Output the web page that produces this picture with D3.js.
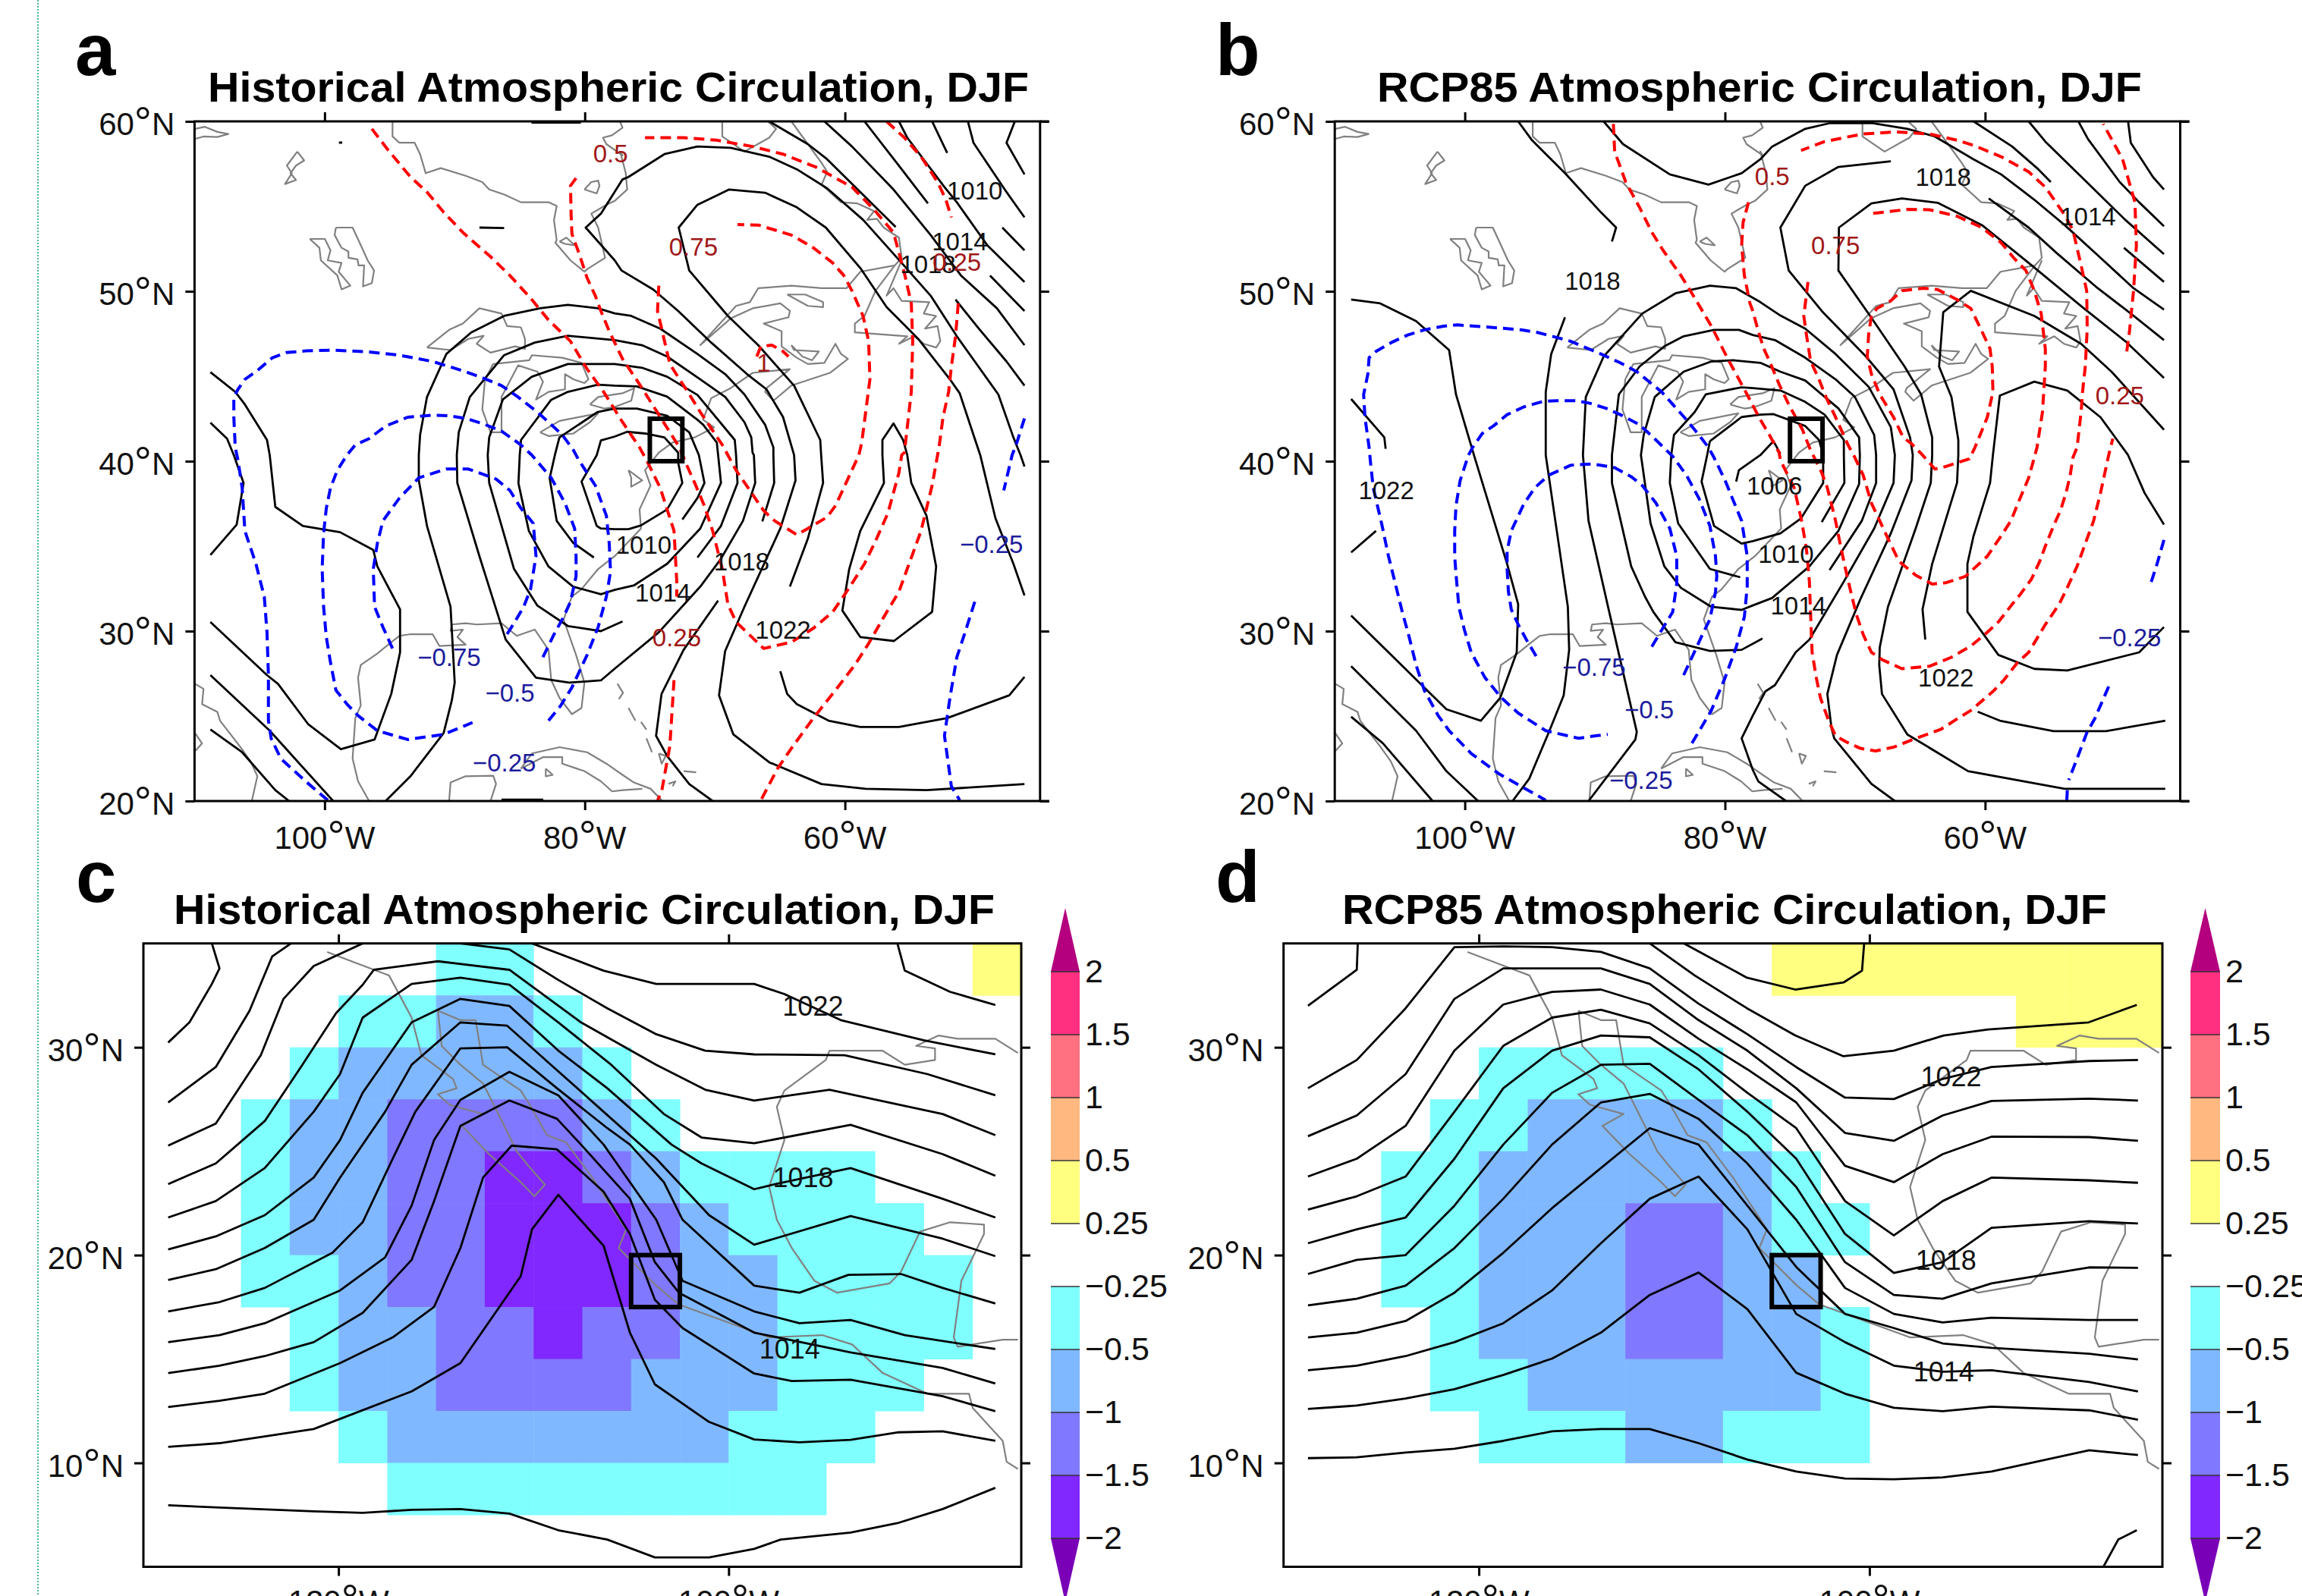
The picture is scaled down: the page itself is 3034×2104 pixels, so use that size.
<!DOCTYPE html>
<html>
<head>
<meta charset="utf-8">
<script src="https://cdnjs.cloudflare.com/ajax/libs/d3/7.8.5/d3.min.js"></script>
<style>
    html, body { margin: 0; padding: 0; background: #fff; overflow: hidden; }
    text { font-family: "Liberation Sans", Arial, sans-serif; }
</style>
</head>
<body>
<svg id="fig" width="3034" height="2104"></svg>
<script>
// ---- data, everything is [lon, lat] ----
const topLonTicks = [-100, -80, -60];
const topLatTicks = [60, 50, 40, 30, 20];
const lowLonTicks = [-120, -100];
const lowLatTicks = [30, 20, 10];
const topTitle = ["Historical Atmospheric Circulation, DJF", "RCP85 Atmospheric Circulation, DJF"];
const barLevels = [2, 1.5, 1, 0.5, 0.25, -0.25, -0.5, -1, -1.5, -2];
const barColors = ["#b4007e", "#ff3080", "#ff7080", "#ffb880", "#ffff80", "#ffffff", "#80ffff", "#80b8ff", "#8078ff", "#8028ff", "#7a00b8"];

// ---- panel a ----
const aPressure = [
    [[-77.7,41.45],[-76.75,41.73],[-75.37,41.63],[-73.88,41.4],[-72.82,40.5],[-72.82,39.91],[-72.5,38.72],[-73.67,37.16],[-75.68,36.22],[-76.64,36.0],[-77.7,36.0],[-78.76,36.04],[-79.08,36.19],[-80.25,38.8],[-79.08,40.36],[-78.76,41.22],[-77.7,41.45]],
    [[-72.5,36.57],[-71.34,37.83],[-70.8,38.72],[-71.23,40.36],[-71.97,41.7],[-73.67,42.67],[-76,43.1],[-77.7,43.1],[-79,42.9],[-81.95,41.4],[-82.3,40.36],[-82.7,39.0],[-82.16,36.49],[-80.9,35.2],[-79.3,34.33]],
    [[-77.7,44.45],[-76,44.4],[-73.67,43.8],[-71.34,42.44],[-70.9,42.15],[-69.85,41.1],[-69.75,40.36],[-69.53,38.72],[-71.12,36.04],[-73.67,33.96],[-76.2,32.7],[-77.7,32.43],[-78.76,32.17],[-80.9,32.62],[-82.8,33.81],[-84.3,35.9],[-85.1,38.7],[-85,40.36],[-84.9,41.25],[-82.6,43.6],[-81.3,44.08],[-79,44.5],[-77.7,44.45]],
    [[-71.34,34.33],[-69.53,36.19],[-68.26,38.72],[-68.37,40.36],[-68.47,41.25],[-71.34,43.9],[-73.67,44.97],[-75.6,45.5],[-77.7,45.72],[-81.3,45.72],[-84.07,44.97],[-86.3,43.63],[-87.35,41.4],[-87.46,40.36],[-87.35,38.72],[-85.44,33.66],[-83.64,31.5],[-81.3,30.3],[-78.76,30.0],[-77.1,30.57]],
    [[-77.7,47.13],[-75.6,46.83],[-73.67,46.16],[-71.12,44.82],[-69.2,43.78],[-67.73,42.3],[-67.2,41.4],[-67.1,40.5],[-67,40.36],[-66.9,38.72],[-67.84,36.49],[-69.53,34.26],[-71.12,32.62],[-74.3,29.94],[-77.7,27.79],[-78.76,27.1],[-81.2,26.97],[-83.75,27.26],[-86.08,29.5],[-88.1,34.41],[-89.8,38.72],[-89.84,40.36],[-89.69,41.7],[-88.84,43.78],[-86.2,46.24],[-83.85,46.98],[-81.3,47.38],[-77.7,47.13]],
    [[-66.35,36.46],[-65.44,38.72],[-65.5,40.36],[-65.5,40.81],[-66.14,42.15],[-67.73,43.93],[-69.2,45.12],[-71.34,46.31],[-74.2,47.8],[-76.43,48.55],[-77.7,48.7],[-79,49.0],[-81.3,49.2],[-83.43,49.0],[-86.2,48.55],[-88.73,47.58],[-90.64,46.31],[-92.13,43.78],[-92.66,41.55],[-92.76,40.36],[-92.76,38.87],[-92.13,36.19],[-90.32,31.43],[-90,26.97],[-90.22,25.93],[-90.85,24],[-93.4,21.46],[-95.31,20.0]],
    [[-69.75,31.8],[-72.4,28.9],[-74.1,26.3],[-74.52,23.84],[-73.67,22.65],[-71.97,21.0],[-70.17,20.0]],
    [[-46.2,21.0],[-53.73,20.64],[-58.4,20.72],[-61.8,21.0],[-65.82,22.28],[-68.58,23.92],[-69.68,26.22],[-69.21,28.83],[-67.73,31.43],[-64.97,36.04],[-63.8,38.87],[-63.91,40.36],[-64.76,42.6],[-66.03,44.23],[-67.52,45.12],[-70.28,46.98],[-72.82,48.84],[-74.73,50.1],[-77.17,51.22],[-77.7,51.82],[-79.93,53.75],[-78.76,54.57],[-77.1,56.58],[-76.64,56.73],[-73.88,58.07],[-71.34,58.52],[-68.79,58.44],[-65.82,57.92],[-63.7,57.18],[-61.37,56.06],[-58.6,54.2],[-55.64,51.67],[-53.41,49.74],[-51.4,47.35],[-48.21,43.93],[-47.05,41.4],[-46.5,40.36],[-46.2,39.69]],
    [[-64.23,32.62],[-62.85,35.45],[-61.68,38.72],[-61.83,40.36],[-61.9,41.25],[-63.91,44.45],[-66.67,46.83],[-69,48.55],[-71.97,51.22],[-72.78,53.75],[-71.34,55.09],[-68.9,55.99],[-66.14,55.8],[-63.7,54.94],[-61.47,53.75],[-58.82,51.37],[-56.8,49.07],[-54.37,47.2],[-51.93,44.82],[-51.18,44.0],[-50.12,41.55],[-49.6,40.36],[-48.43,36.64],[-47.05,33.96],[-46.2,32.1]],
    [[-57.12,40.36],[-57,38.72],[-58.82,35.9],[-59.67,33.66],[-60.2,31.21],[-58.82,29.65],[-56.23,29.42],[-53.3,31.13],[-52.99,33.81],[-53.73,36.79],[-54.9,38.72],[-55.21,40.36],[-55.53,41.25],[-56.27,42.22],[-57.12,41.25],[-57.12,40.36]],
    [[-64.97,27.64],[-64.44,26.3],[-63.7,25.7],[-61.26,24.73],[-58.82,24.36],[-55.85,24.36],[-52.14,24.88],[-47.37,26.22],[-46.2,27.3]],
    [[-46.94,60],[-47.58,58.74],[-46.2,56.88]],
    [[-50.55,60],[-50.12,58.74],[-47.58,55.84],[-46.2,54.35]],
    [[-53.3,60],[-52.14,58.14]],
    [[-47.9,53.75],[-46.2,52.41]],
    [[-55.85,60],[-55.21,59.04],[-52.35,56.13],[-51.4,55.24],[-49.06,52.71],[-46.2,50.55]],
    [[-58.5,60],[-55.64,57.18],[-53.62,55.17]],
    [[-48.85,50.93],[-46.2,48.84]],
    [[-61.58,60],[-59.46,58.52],[-56.27,55.99],[-53.41,53.31],[-51.08,50.93],[-48.32,49],[-46.2,46.83]],
    [[-65.82,60],[-62.85,58.66],[-61.37,57.77],[-56.1,53.78]],
    [[-51.5,49.51],[-49.7,47.8],[-47.58,45.87],[-46.2,44.45]],
    [[-108.78,45.24],[-106.87,44.08],[-106.13,43.34],[-104.43,41.25],[-104.22,40.36],[-103.79,37.31],[-101.67,36.19],[-98.81,35.82],[-96.26,34.78],[-95.95,33.81],[-94.2,31.28],[-94.2,28.75],[-94.88,26.3],[-96.16,23.62],[-98.75,23.05],[-101.25,24.51],[-103.58,26.89],[-104.43,27.41],[-108.78,30.54]],
    [[-108.78,42.27],[-107.5,41.33],[-106.98,40.36],[-106.23,38.72],[-106.76,36.27],[-108.78,34.48]],
    [[-108.78,27.41],[-104.22,24.14],[-99.34,20]],
    [[-108.78,24.21],[-106.34,22.87],[-103.79,20.64],[-102.73,20]],
    [[-88.1,53.75],[-86.2,53.72]],
    [[-84.1,59.93],[-80.3,59.93]],
    [[-86.4,20.08],[-83.2,20.08]],
    [[-98.9,58.75],[-98.65,58.75]]
];
const aRedDash = [
    [[-96.37,59.56],[-95.1,58.29],[-93.4,56.73],[-92.13,55.84],[-90.85,54.65],[-89.37,53.46],[-87.25,52.04],[-85.76,50.93],[-84.07,49.51],[-82.8,48.32],[-81.1,47.06],[-79.82,45.42],[-78.55,44.08],[-77.1,42.3],[-75.79,40.81],[-75.15,39.91],[-74.2,38.43],[-73.67,37.16],[-73.14,35.9],[-72.93,32.92],[-72.93,32.03]],
    [[-73.14,27.12],[-73.46,23.25],[-74.09,20.57],[-74.4,20.05]],
    [[-80.67,56.66],[-81.1,56.21],[-81.05,54.5],[-80.99,53.38],[-80.46,52.27],[-79.82,50.78],[-79.19,49.74],[-78.76,48.84],[-78.12,47.65],[-77.1,46.02],[-75.79,44.53],[-72.72,40.81],[-72.29,39.99],[-71.55,38.72],[-70.81,37.38],[-70.17,35.9],[-69.43,33.66],[-69,31.58],[-68.37,30.54],[-66.25,28.98],[-64.12,29.35],[-62.43,30.17],[-60.94,31.13],[-59.67,32.55],[-58.5,33.96],[-57.65,35.3],[-56.7,36.94],[-55.85,39.32],[-55.64,40.36],[-55.43,40.51],[-54.9,44.08],[-54.79,47.06],[-54.9,49.29],[-55.43,51.07],[-56.27,53.46],[-57.76,54.8],[-59.46,56.13],[-62.21,57.3],[-64.76,58.07],[-67.09,58.52],[-69.85,58.89],[-72.4,59.04],[-75.37,59.04]],
    [[-74.31,50.33],[-74.41,48.84],[-74.09,47.8],[-73.78,46.76],[-73.46,45.72],[-72.72,44.82],[-72.08,44.08],[-71.12,42.89],[-69.43,40.96],[-69,40.36],[-68.37,39.47],[-67.31,38.28],[-66.25,37.09],[-65.4,36.49],[-63.7,35.67],[-62.85,36.04],[-61.37,36.71],[-60.73,37.38],[-60.09,38.43],[-58.93,40.36],[-58.71,41.1],[-58.08,44.82],[-58.18,47.06],[-58.61,48.55],[-59.46,50.03],[-60.09,50.93],[-60.94,51.67],[-62.43,52.56],[-64.12,53.31],[-66.67,53.9],[-68.26,53.93]],
    [[-66.78,46.16],[-66.46,46.76],[-65.61,46.83],[-64.76,46.46],[-64.34,46.16]],
    [[-56.8,60],[-55.43,59.04],[-54.15,57.92],[-52.88,56.43],[-52.24,55.39],[-51.82,54.35]],
    [[-51.29,49.29],[-51.5,47.35],[-51.82,45.57],[-52.03,44.08],[-52.46,42.59],[-52.77,40.81],[-52.88,40.36],[-53.3,38.57],[-54.15,35.9],[-55,34.11],[-55.85,32.32],[-57.12,30.69],[-58.18,29.27],[-59.24,28.01],[-60.73,26.52],[-62.43,24.88],[-64.12,23.1],[-65.18,21.91],[-66.46,20.05]]
];
const aBlueDash = [
    [[-82.79,24.73],[-81.84,25.63],[-81,26.67],[-79.82,28.6],[-78.97,30.24],[-78.34,32.03],[-78.02,33.51],[-78.12,35.15],[-78.34,36.79],[-79.19,38.57],[-80.46,40.06],[-80.88,40.66],[-81.73,41.55],[-82.58,42.15],[-83.64,42.89],[-85.13,43.78],[-86.4,44.45],[-87.57,44.82],[-89.16,45.27],[-91.7,45.87],[-94.25,46.24],[-96.58,46.43],[-99.34,46.54],[-101.46,46.49],[-102.95,46.39],[-104.01,46.09],[-105.28,45.27],[-106.13,44.82],[-106.66,44.23],[-106.98,43.78],[-106.98,42.59],[-106.87,40.81],[-106.66,40.06],[-106.34,38.43],[-106.13,35.9],[-105.28,33.96],[-104.64,32.03],[-104.43,29.94],[-104.32,27.41],[-104.32,24.73],[-104.11,23.69],[-103.37,22.5],[-101.46,21.16],[-99.76,20.05]],
    [[-83.22,28.46],[-82.37,29.8],[-81.63,30.84],[-81.1,31.73],[-80.67,33.22],[-80.67,34.41],[-80.78,36.04],[-81.52,37.53],[-82.58,39.02],[-84.07,40.36],[-84.91,40.96],[-86.4,41.77],[-87.88,42.22],[-89.16,42.52],[-90.43,42.67],[-91.7,42.71],[-93.61,42.59],[-95.31,42.07],[-96.58,41.33],[-97.64,40.96],[-98.28,40.36],[-99.02,39.47],[-99.55,38.43],[-99.87,37.23],[-100.08,35.75],[-100.19,33.66],[-100.08,31.43],[-99.87,29.65],[-99.55,28.16],[-99.13,26.52],[-98.28,25.7],[-97.43,25.03],[-95.95,24.14],[-93.61,23.62],[-90.85,23.92],[-88.63,24.62]],
    [[-94.78,28.98],[-95.52,30.24],[-96.16,31.43],[-96.26,33.66],[-95.95,35.15],[-95.52,36.49],[-94.25,37.83],[-92.76,39.02],[-90.64,39.54],[-88.95,39.54],[-86.82,38.95],[-85.76,38.28],[-84.91,37.23],[-83.96,36.34],[-83.75,34.41],[-84.17,32.47],[-84.7,31.43],[-85.44,30.46],[-86.19,29.57]],
    [[-46.2,42.52],[-46.84,40.96],[-47.15,40.36],[-47.79,38.28]],
    [[-50.02,31.73],[-50.76,29.94],[-51.4,28.46],[-51.93,26.07],[-52.35,23.84],[-52.03,22.06],[-51.82,20.87],[-51.18,20.05]]
];
const aLabels = [
    ["1010", -50.02, 55.91, "k"], ["1014", -51.18, 52.94, "k"], ["1018", -53.62, 51.6, "k"], ["1010", -75.47, 35.08, "k"],
    ["1018", -67.94, 34.11, "k"], ["1014", -73.99, 32.25, "k"], ["1022", -64.76, 30.09, "k"],
    ["0.25", -51.4, 51.75, "r"], ["0.75", -71.65, 52.64, "r"], ["0.5", -78.02, 58.14, "r"], ["1", -66.25, 45.79, "r"], ["0.25", -72.93, 29.65, "r"],
    ["\u22120.25", -48.74, 35.15, "b"], ["\u22120.75", -90.43, 28.46, "b"], ["\u22120.5", -85.76, 26.37, "b"], ["\u22120.25", -86.19, 22.28, "b"]
];

// ---- panel b ----
const bPressure = [
    [[-81.16,41.18],[-78.72,42.6],[-77.28,42.74],[-76.27,42.77],[-75.1,42.44],[-73.83,42.07],[-72.77,41.25],[-72.45,40.36],[-72.45,38.72],[-74.15,36.64],[-75.74,35.75],[-77.86,35.3],[-78.72,35.15],[-80.84,36.19],[-81.8,38.8],[-81.37,40.36],[-81.16,41.18]],
    [[-72.56,36.42],[-70.82,38.72],[-70.86,40.36],[-70.86,41.25],[-72.34,42.74],[-73.83,43.49],[-75.74,44.16],[-77.86,44.3],[-78.72,44.35],[-81.48,43.93],[-82.33,42.89],[-83.92,41.55],[-84.13,40.36],[-84.24,38.72],[-83.6,36.34],[-81.16,33.66],[-78.83,33.17]],
    [[-86.25,41.55],[-85.4,43.78],[-83.18,45.27],[-81.05,45.87],[-79.36,45.94],[-77.28,45.79],[-75.74,45.27],[-73.83,44.75],[-71.28,43.11],[-69.69,41.4],[-69.63,40.36],[-69.69,38.65],[-71.28,35.9],[-73.51,33.81],[-76.38,31.95],[-77.86,31.51],[-78.72,31.25],[-81.05,31.43],[-83.39,32.55],[-84.66,33.81],[-85.72,36.34],[-86.46,40.36],[-86.25,41.55]],
    [[-71.96,33.59],[-69.48,36.49],[-68.38,38.72],[-68.38,40.36],[-68.53,41.55],[-70.01,43.78],[-71.5,44.82],[-73.83,46.09],[-76.16,47.13],[-77.86,47.43],[-78.93,47.73],[-80.84,47.73],[-83.18,47.35],[-84.66,46.76],[-86.57,45.57],[-88.16,43.93],[-88.69,40.36],[-88.69,38.72],[-87.21,33.81],[-86.15,32.03],[-85.51,31.13],[-83.81,29.35],[-81.16,28.83],[-78.72,28.9],[-77.28,29.5],[-77.12,29.57]],
    [[-90.49,20],[-86.89,23.62],[-86.78,24.07],[-88.9,31.13],[-90.49,36.49],[-90.92,40.36],[-90.7,43.78],[-89.33,46.16],[-86.36,48.69],[-83.81,49.88],[-81.16,50.33],[-79.14,50.18],[-77.28,49.36],[-75.84,48.62],[-73.83,47.8],[-71.5,46.31],[-68.95,44.38],[-67.25,42.0],[-66.94,40.36],[-67.04,38.72],[-68.53,36.04],[-70.86,32.92],[-72.13,31.28],[-73.51,29.5],[-74.57,28.75],[-76.16,26.82],[-76.9,26.45],[-77.86,25.03],[-78.72,23.69],[-77.86,21.83],[-77.44,21.16],[-75.31,20]],
    [[-79.14,38.8],[-78.93,39.47],[-77.28,40.36],[-76.27,41.18],[-75.74,40.44]],
    [[-46.25,44.9],[-49.22,47.06],[-52.4,48.99],[-56.65,51.67],[-60.25,53.9],[-63.65,55.21],[-66.4,55.46],[-68.74,55.17],[-71.24,53.75],[-71.28,51.22],[-68.84,48.55],[-66.19,45.57],[-64.92,43.93],[-64.07,41.4],[-64.07,40.36],[-64.18,38.72],[-65.34,36.04],[-67.47,31.43],[-68.1,29.05],[-68.14,28.01],[-67.93,26.3],[-65.98,23.92],[-61.31,21.76],[-53.89,20.72],[-46.15,20.72]],
    [[-67.25,57.65],[-71.28,57.32],[-73.83,56.21],[-75.74,53.75],[-75.1,51.22],[-72.56,48.84],[-69.16,46.16],[-67.04,44.23],[-65.77,41.4],[-65.56,40.36],[-65.66,38.87],[-67.25,35.75],[-69.59,31.88],[-71.39,28.6],[-72.13,26.3],[-71.81,24.29],[-71.6,23.69],[-68.74,21.01],[-66.94,20]],
    [[-46.25,41.85],[-50.28,45.27],[-52.62,46.91],[-56.22,48.55],[-61.1,50.03],[-63.22,48.77],[-63.54,45.57],[-62.59,43.78],[-62.06,41.25],[-62.06,40.36],[-62.16,38.72],[-64.07,33.96],[-64.81,31.28],[-64.6,29.5]],
    [[-46.25,30.24],[-48.16,28.75],[-53.68,27.68],[-56.22,27.78],[-58.98,28.6],[-61.36,31.13],[-61.36,33.96],[-60.89,35.6],[-59.62,38.72],[-59.4,40.36],[-58.87,43.86],[-56.22,44.68],[-53.68,44.16],[-51.13,42.59],[-49.01,40.36],[-47.74,38.13],[-46.25,36.27]],
    [[-60.57,25.26],[-58.87,24.73],[-54.74,24.11],[-50.71,24.11],[-46.15,24.73]],
    [[-89.33,60],[-87.84,58.66],[-84.24,56.88],[-81.27,56.28],[-78.72,56.95],[-77.28,57.77],[-76.37,58.52],[-73.83,59.56],[-71.92,59.9],[-68.74,59.9],[-65.98,59.56],[-63.86,59.11],[-60.89,57.77],[-58.77,56.88],[-56.22,55.39],[-53.89,53.9],[-51.34,52.12],[-48.59,50.18],[-46.25,48.92]],
    [[-95.9,60],[-94.84,58.89],[-92.3,56.95],[-89.54,54.65],[-88.37,53.75],[-88.69,52.93]],
    [[-59.72,55.46],[-56.65,53.75],[-54.53,52.27],[-51.34,50.18],[-48.8,48.69],[-46.25,47.13]],
    [[-49.01,60],[-48.8,58.74],[-47.1,56.73],[-46.25,55.99]],
    [[-52.83,60],[-52.09,58.96],[-49.65,56.43],[-48.16,55.24],[-46.25,53.83]],
    [[-56.65,60],[-55.37,58.81],[-52.19,56.43],[-49.22,54.2],[-46.25,52.19]],
    [[-60.89,60],[-57.92,58.52],[-56.01,57.25],[-54.95,56.43]],
    [[-49.33,52.56],[-46.25,50.55]],
    [[-108.74,49.51],[-106.51,49.29],[-103.75,48.25],[-101.21,46.54],[-100.68,43.93],[-99.3,40.36],[-96.75,33.96],[-95.9,31.58],[-96.01,28.75],[-97.28,26.07],[-98.77,24.73],[-101.42,25.4],[-108.74,30.91]],
    [[-92.3,48.47],[-93.36,46.31],[-93.78,44.08],[-93.78,40.36],[-92.93,35.9],[-92.08,31.43],[-91.98,28.9],[-92.4,26.22],[-93.57,24],[-95.05,21.31],[-96.33,20]],
    [[-108.74,43.66],[-106.19,41.4],[-106.09,40.73]],
    [[-108.74,34.63],[-106.83,35.9]],
    [[-108.74,27.93],[-103.75,24.14],[-101.42,21.76],[-98.98,20]],
    [[-108.74,24.96],[-106.3,23.4],[-102.48,20]]
];
const bRedDash = [
    [[-88.58,59.85],[-88.48,58.22],[-88.05,57.32],[-87.63,56.43],[-86.57,54.94],[-85.61,53.46],[-84.76,52.41],[-83.39,50.93],[-82.54,49.88],[-81.05,47.95],[-79.78,46.02],[-78.51,44.23],[-77.28,42.44],[-76.59,41.55],[-75.84,40.51],[-75.74,40.06],[-74.68,38.43],[-74.15,36.64],[-73.94,35.75],[-73.72,34.71],[-73.51,32.92],[-73.41,30.84],[-73.3,28.75],[-72.98,27.26],[-72.66,26.07],[-72.03,24.73],[-71.5,23.84],[-70.65,23.47],[-69.59,23.1],[-68.42,22.95],[-67.04,23.17],[-65.56,23.62],[-63.43,24.21],[-62.06,24.88],[-61.1,25.33],[-59.4,26.45],[-58.56,27.12],[-57.5,28.16],[-56.65,28.75],[-55.37,30.39],[-54.31,31.58],[-53.78,32.4],[-52.93,33.81],[-52.3,35.15],[-51.66,36.49],[-51.13,38.13],[-50.5,40.36],[-50.18,41.33]],
    [[-49.11,46.46],[-48.9,47.65],[-48.59,50.03],[-48.37,52.71],[-48.48,55.24],[-49.43,57.77],[-50.92,59.85]],
    [[-78.19,55.24],[-78.61,54.05],[-78.72,52.71],[-78.51,50.93],[-78.08,49.29],[-77.86,48.84],[-77.44,47.65],[-77.01,46.61],[-76.48,45.72],[-75.84,44.53],[-75.1,43.34],[-74.04,41.85],[-73.51,40.81],[-72.56,39.32],[-72.13,38.43],[-71.81,37.46],[-71.5,36.49],[-71.07,34.85],[-70.65,33.37],[-70.33,32.32],[-69.9,30.98],[-69.37,29.79],[-68.74,28.75],[-67.89,28.31],[-66.4,27.79],[-64.28,27.93],[-62.59,28.46],[-61.1,29.12],[-60.04,29.79],[-58.98,30.54],[-57.92,31.58],[-57.28,32.18],[-56.43,33.07],[-55.8,34.11],[-55.37,35],[-54.74,36.19],[-54.21,37.09],[-53.78,38.13],[-53.46,39.17],[-53.25,40.21],[-52.93,40.81],[-52.62,42.89],[-52.51,44.08],[-52.3,45.57],[-52.15,47.8],[-52.19,50.03],[-52.62,51.52],[-53.25,53.6],[-53.89,54.5],[-55.37,56.13],[-56.65,57.03],[-58.77,57.92],[-60.89,58.59],[-62.16,58.89],[-64.28,59.26],[-66.83,59.38],[-69.37,59.26],[-70.86,59.04],[-72.34,58.81],[-74.15,58.29]],
    [[-73.62,50.55],[-73.94,48.55],[-73.72,47.35],[-73.41,45.87],[-72.77,44.82],[-72.24,43.78],[-71.5,42.59],[-70.54,40.96],[-70.01,40.21],[-69.37,39.17],[-68.74,37.53],[-68.1,36.49],[-67.47,35.45],[-66.62,34.11],[-65.34,33.29],[-64.07,32.77],[-63.01,32.85],[-61.52,33.22],[-59.83,34.41],[-58.77,35.6],[-58.02,36.49],[-57.39,37.68],[-56.65,39.02],[-56.22,40.21],[-56.01,40.81],[-55.59,42.89],[-55.37,45.57],[-55.37,46.61],[-55.69,48.69],[-56.22,50.03],[-56.86,51.22],[-57.71,51.89],[-58.77,52.86],[-60.25,53.75],[-62.16,54.42],[-64.28,54.8],[-65.98,54.82],[-68.74,54.57]],
    [[-68.74,48.55],[-68.95,47.5],[-69.06,46.16],[-68.74,45.12],[-68.1,43.93],[-67.04,42.59],[-66.3,41.4],[-65.66,41.03],[-64.81,40.36],[-63.86,39.54],[-63.01,39.69],[-61.21,40.14],[-60.78,40.81],[-59.83,42.59],[-59.4,44.08],[-59.45,45.57],[-59.62,46.61],[-60.25,47.65],[-61.1,48.99],[-62.16,49.51],[-63.65,50.1],[-64.71,50.18],[-66.4,50.03],[-67.25,49.44],[-68.31,49.0],[-68.74,48.55]]
];
const bBlueDash = [
    [[-82.54,23.4],[-81.05,25.33],[-79.99,27.26],[-79.14,29.05],[-78.51,30.84],[-78.29,32.62],[-78.29,34.41],[-78.72,36.49],[-79.36,37.68],[-79.99,38.87],[-80.84,40.21],[-81.27,40.81],[-82.01,41.55],[-82.96,42.44],[-84.87,44.08],[-86.78,45.27],[-88.05,45.79],[-89.54,46.31],[-91.87,47.06],[-92.93,47.28],[-94.42,47.58],[-95.69,47.73],[-98.02,47.88],[-100.57,48.02],[-101.63,47.95],[-103.11,47.73],[-104.39,47.43],[-105.66,46.98],[-106.83,46.46],[-107.36,46.09],[-107.46,45.12],[-107.78,43.93],[-107.68,42.59],[-107.36,40.81],[-107.25,39.91],[-107.04,38.43],[-106.4,36.34],[-105.87,34.41],[-105.24,32.47],[-104.81,31.13],[-104.28,29.65],[-103.75,28.01],[-103.12,26.52],[-102.05,25.03],[-101.21,24.14],[-99.51,22.8],[-97.39,21.61],[-95.69,20.87],[-93.78,20.05]],
    [[-94.52,28.53],[-95.27,29.5],[-95.9,30.39],[-96.43,31.28],[-96.65,32.32],[-96.75,33.66],[-96.75,34.71],[-96.43,35.9],[-95.48,37.46],[-94.63,38.43],[-93.57,39.17],[-91.87,39.76],[-90.18,39.84],[-88.48,39.62],[-87.21,39.09],[-86.36,38.57],[-85.3,37.53],[-84.24,36.04],[-83.71,34.41],[-83.71,32.77],[-84.02,31.13],[-85.83,28.83]],
    [[-83.18,27.41],[-82.54,28.46],[-81.69,29.87],[-81.16,30.69],[-80.73,32.32],[-80.63,33.22],[-80.73,34.41],[-81.16,36.19],[-82.01,37.83],[-82.96,39.17],[-84.02,40.29],[-85.51,41.4],[-86.57,42.15],[-88.05,42.74],[-89.12,43.11],[-90.39,43.41],[-91.45,43.56],[-92.93,43.56],[-93.99,43.52],[-95.48,43.19],[-96.75,42.74],[-97.81,42.07],[-98.66,41.63],[-99.4,40.81],[-99.72,40.36],[-100.36,38.87],[-100.68,37.38],[-100.78,35.9],[-100.78,34.41],[-100.68,33.37],[-100.46,31.43],[-100.04,30.09],[-99.51,28.75],[-98.45,27.26],[-97.18,26.07],[-95.9,25.18],[-93.78,24.14],[-91.24,23.69],[-89.96,23.84],[-89.01,23.92]],
    [[-46.25,35.37],[-46.78,33.96],[-47.31,32.7]],
    [[-50.5,26.74],[-51.55,24.88],[-52.19,24.0],[-52.93,22.5],[-53.57,21.24]],
    [[-53.68,20.64],[-53.72,20.05]]
];
const bLabels = [
    ["1018", -63.22, 56.73, "k"], ["1014", -52.09, 54.42, "k"], ["1018", -90.18, 50.63, "k"], ["1022", -106.04, 38.28, "k"],
    ["1006", -76.2, 38.57, "k"], ["1010", -75.31, 34.56, "k"], ["1014", -74.36, 31.5, "k"], ["1022", -63.01, 27.26, "k"],
    ["0.5", -76.37, 56.8, "r"], ["0.75", -71.5, 52.71, "r"], ["0.25", -49.65, 43.86, "r"],
    ["\u22120.75", -90.07, 27.89, "b"], ["\u22120.5", -85.83, 25.4, "b"], ["\u22120.25", -86.46, 21.24, "b"], ["\u22120.25", -48.9, 29.65, "b"]
];

// coast for the two upper maps
const topCoast = [
    [[-110,59.5],[-109.95,59.56],[-109.2,59.68],[-108.25,59.38],[-107.4,59.26],[-108.25,59.08],[-109.3,59.11],[-110,58.96]],
    [[-102.1,58.22],[-101.57,57.7],[-102.2,57.4],[-102.63,56.95],[-102.2,56.55],[-103.05,56.31],[-102.52,56.95],[-102.9,57.4],[-102.1,58.22]],
    [[-99.13,53.75],[-97.85,53.75],[-97.22,52.71],[-96.69,51.82],[-96.2,51.22],[-96.37,50.48],[-97.05,50.29],[-96.96,51.52],[-97.39,51.52],[-97.47,51.88],[-98.17,51.97],[-98.17,52.34],[-98.7,52.56],[-99.23,53.31],[-99.13,53.75]],
    [[-101.14,53.08],[-99.98,53.08],[-99.55,52.41],[-99.76,51.82],[-98.7,51.67],[-98.92,51.15],[-98.02,50.33],[-98.7,50.11],[-99.02,50.93],[-100.29,51.82],[-100.4,52.56],[-101.14,53.08]],
    [[-94.78,60],[-94.78,59.11],[-94.25,58.74],[-93.08,58.74],[-92.66,58.07],[-92.23,56.95],[-91.07,57.25],[-89.16,56.8],[-87.88,56.43],[-87.35,55.99],[-86.18,55.69],[-84.91,55.24],[-82.79,55.24],[-82.16,55.02],[-82.37,54.2],[-82.16,53.01],[-82.26,52.86],[-81.1,51.82],[-80.03,51.15],[-79.82,51.3],[-78.44,51.97],[-78.97,53.75],[-79.5,54.57],[-78.34,55.09],[-77.7,55.32],[-76.74,55.99],[-76.85,56.95],[-77.28,58.22],[-77.1,58.0],[-78.34,58.66],[-78.6,59.04],[-77.91,59.18],[-77.1,59.63],[-77.3,60]],
    [[-80.03,55.99],[-79.5,56.43],[-78.97,56.51],[-78.87,56.21],[-79.08,55.76],[-80.03,55.99]],
    [[-81.94,52.93],[-81.41,53.16],[-80.78,52.71],[-81.52,52.79],[-81.94,52.93]],
    [[-69.43,60],[-69.43,59.11],[-67.73,58.22],[-65.82,59.04],[-65.29,59.56],[-65.93,60]],
    [[-64.12,60],[-62.85,58.66],[-61.79,57.55],[-61.37,57.03],[-61.79,56.28],[-60.3,55.24],[-59.03,55.17],[-57.76,54.72],[-58.29,54.2],[-57.55,54.27],[-57.02,53.75],[-55.85,53.16],[-55.64,51.97],[-56.17,51.52],[-58.82,51.15],[-59.88,50.18],[-61.79,50.18],[-64.12,50.33],[-66.67,50.18],[-67.31,49.36],[-68.37,49.14],[-71.12,46.83],[-68.79,48.4],[-67.09,49.0],[-64.97,49.29],[-64.23,48.84],[-64.34,48.47],[-66.25,48.1],[-64.87,47.65],[-64.87,46.76],[-63.7,46.09],[-62.85,45.72],[-61.58,45.79],[-60.73,46.91],[-60.3,46.31],[-59.77,46.02],[-61.15,45.2],[-64.12,44.45],[-65.5,43.56],[-66.14,44.08],[-66.03,44.3],[-64.23,45.42],[-67.09,45.2],[-68.79,44.3],[-70.28,43.71],[-70.91,42.44],[-70.06,41.99],[-71.55,41.4],[-73.25,41.1],[-74.31,40.51],[-75.37,39.47],[-74.94,38.57],[-75.79,37.16],[-75.68,36.04],[-77.7,34.41],[-78.97,33.66],[-80.25,32.47],[-81,32.03],[-81.63,30.69],[-80.67,28.6],[-80.03,26.97],[-80.25,25.48],[-80.99,25.11],[-81.94,26.07],[-82.58,27.12],[-82.79,28.9],[-83.85,30.09],[-85.23,29.72],[-86.4,30.46],[-88.31,30.39],[-89.16,30.46],[-90.22,30.39],[-90.32,30.02],[-89.37,30.09],[-89.79,29.65],[-89.16,29.2],[-91.17,29.12],[-91.7,29.82],[-93.4,29.82],[-94.25,29.72],[-94.88,29.35],[-95.95,28.68],[-97.22,28.01],[-97.43,27.26],[-97.22,25.63],[-97.64,24.88],[-97.85,22.5],[-97.43,21.16],[-96.58,20]],
    [[-55.64,51.82],[-56.8,49.74],[-56.27,50.18],[-55.64,49.44],[-53.52,49.36],[-53.94,48.69],[-52.99,48.55],[-53.84,47.8],[-52.88,47.95],[-52.67,47.06],[-52.99,46.69],[-53.94,46.91],[-54.68,47.35],[-55.85,46.91],[-55.21,47.35],[-59.24,47.58],[-59.24,48.1],[-58.5,48.55],[-57.65,50.03],[-56.17,51.52]],
    [[-64.44,49.81],[-63.06,49.81],[-61.68,49.36],[-61.68,49.07],[-62.85,49.14],[-64.44,49.81]],
    [[-64.12,46.83],[-63.91,46.54],[-62,46.46],[-62.53,45.94],[-63.27,46.16],[-64.12,46.83]],
    [[-76.64,39.47],[-75.58,38.87],[-76.43,38.5],[-76.43,39.02],[-76.64,39.47]],
    [[-92.13,46.69],[-90.43,47.73],[-89.37,48.1],[-88.1,49.0],[-86.4,48.69],[-85.97,47.95],[-84.91,47.88],[-84.6,47.2],[-84.6,46.61],[-85.35,46.76],[-87.25,46.39],[-88.31,46.91],[-87.78,47.38],[-88.95,47.2],[-90.32,46.54],[-92.13,46.69]],
    [[-87.67,44.82],[-87.04,45.72],[-84.28,45.94],[-84.06,46.24],[-81.73,46.09],[-80.25,45.79],[-79.72,44.82],[-80.03,44.6],[-80.88,44.82],[-81.52,45.12],[-81.52,44.23],[-82.79,44.08],[-83.75,43.63],[-83.21,44.68],[-83.64,45.27],[-85.13,45.64],[-86.4,43.78],[-86.4,41.7],[-87.25,41.7],[-87.88,43.04],[-87.67,44.82]],
    [[-83.43,41.7],[-81.94,42.37],[-78.97,42.82],[-79.6,42.3],[-80.88,41.63],[-82.79,41.48],[-83.43,41.7]],
    [[-79.6,43.34],[-78.97,43.78],[-77.1,44.0],[-76.2,44.3],[-76.43,43.56],[-77.7,43.19],[-78.5,43.1],[-79.6,43.34]],
    [[-90.43,20],[-90.32,21.09],[-89.16,21.46],[-87.04,21.49],[-86.82,21.01],[-87.25,20]],
    [[-84.91,21.91],[-84.07,22.8],[-81.94,23.17],[-79.82,22.87],[-78.34,22.2],[-77.1,21.54],[-76.22,21.09],[-74.94,20.72],[-74.09,20.05]],
    [[-75.58,20.72],[-77.06,20.64],[-77.9,20.57],[-78.76,21.16],[-80.03,21.76],[-81.73,22.2],[-81.73,22.58],[-83.22,22.58],[-84.91,21.91]],
    [[-83,21.91],[-82.47,21.54],[-83,21.46],[-83,21.91]],
    [[-77.49,26.9],[-77.06,26.37],[-77.38,26.0]],
    [[-76.64,25.48],[-76.11,24.73]],
    [[-75.68,24.66],[-75.26,24.2]],
    [[-75.26,23.69],[-74.84,22.87]],
    [[-74.31,22.8],[-73.78,22.65],[-74.09,22.2],[-74.31,22.8]],
    [[-72.4,21.76],[-71.44,21.69]],
    [[-73.56,21.01],[-73.03,21.16],[-73.25,20.87]],
    [[-109.95,26.89],[-109.31,26.6],[-109.42,25.7],[-108.25,25.25],[-108.04,24.73],[-106.55,23.25],[-105.7,22.35],[-105.17,21.46],[-105.6,20]],
    [[-109.95,23.99],[-109.42,23.39],[-109.95,22.95]]
];

// ---- panel c ----
const cPressure = [
    [[-128.73,30.23],[-127.64,31.2],[-126.49,33.05],[-126.1,33.8],[-126.49,35]],
    [[-91.35,35],[-90.97,33.69],[-88.65,32.67],[-86.33,32.04]],
    [[-128.73,27.35],[-126.29,29.05],[-124.56,31.76],[-123.4,34.37],[-122.43,35]],
    [[-110.08,35],[-106.41,33.69],[-103.71,33.05],[-98.69,33.05],[-97.14,32.56],[-94.25,31.31],[-90,30.34],[-86.33,29.66]],
    [[-128.73,25.27],[-126.29,26.33],[-123.98,29.62],[-122.82,32.33],[-121.27,33.91],[-118.76,35]],
    [[-113.75,35],[-111.24,34.71],[-108.73,33.24],[-106.22,31.88],[-103.71,30.63],[-101.2,29.84],[-98.69,29.66],[-94.05,29.62],[-89.81,28.71],[-86.33,27.69]],
    [[-128.73,23.42],[-126.29,24.41],[-123.78,26.45],[-121.85,29.16],[-120.12,31.65],[-118.76,33.01],[-118.19,33.73],[-114.9,34.14],[-111.24,33.73],[-107.57,31.2],[-103.71,29.16],[-101.2,27.96],[-98.69,27.44],[-94.83,27.96],[-89.03,26.79],[-86.33,25.77]],
    [[-128.73,21.81],[-126.29,22.6],[-123.78,24.19],[-121.27,26.9],[-119.92,28.71],[-118.76,31.43],[-116.25,33.05],[-113.75,33.35],[-111.24,33.01],[-108.73,31.2],[-106.02,29.16],[-103.32,26.79],[-101.39,25.66],[-98.69,25.38],[-93.75,26.27],[-89.03,24.86],[-86.33,23.82]],
    [[-128.73,20.27],[-126.29,20.9],[-123.78,21.92],[-121.27,23.73],[-119.92,25.54],[-118.76,27.81],[-116.25,31.2],[-113.75,32.33],[-111.24,31.99],[-108.73,29.84],[-106.22,28.03],[-102.93,25.32],[-101.39,24.41],[-98.69,23.17],[-97.72,23.39],[-93.75,24.19],[-89.03,22.71],[-86.33,21.81]],
    [[-128.73,18.8],[-126.29,19.32],[-123.78,20.34],[-121.27,21.7],[-119.92,23.73],[-117.61,26.9],[-116.25,29.16],[-113.75,31.2],[-111.35,31.04],[-109.11,29.16],[-106.41,26.9],[-103.71,24.64],[-101,21.92],[-98.69,20.5],[-93.75,21.88],[-89.03,20.79],[-86.33,19.95]],
    [[-128.73,17.29],[-126.1,17.74],[-123.78,18.42],[-120.31,20.11],[-118.76,21.58],[-117.22,24.64],[-116.06,26.9],[-113.75,29.95],[-111.35,30],[-108.8,28.03],[-106.22,26.11],[-105.06,25.32],[-103.32,23.51],[-102.36,21.7],[-98.69,18.53],[-96.37,18.19],[-93.86,19.05],[-91.16,19.09],[-89.03,18.42],[-86.33,17.67]],
    [[-128.73,15.81],[-126.1,16.15],[-123.78,16.72],[-119.92,18.3],[-117.61,19.89],[-116.25,22.38],[-115.1,25.54],[-113.75,27.47],[-111.24,28.82],[-108.73,27.69],[-106.41,25.32],[-103.71,21.7],[-102.36,18.76],[-98.69,17.29],[-96.37,16.72],[-93.75,16.88],[-90.97,16.15],[-86.33,15.48]],
    [[-128.73,14.32],[-126.1,14.68],[-123.78,15.14],[-121.27,15.81],[-118.76,17.22],[-116.25,19.77],[-115.1,22.6],[-113.75,26.22],[-111.24,27.44],[-108.8,26.56],[-107.57,25.32],[-105.06,22.71],[-103.78,19.66],[-102.55,18.19],[-98.69,16.27],[-93.75,15.32],[-89.03,14.57],[-86.33,13.82]],
    [[-128.73,12.69],[-126.1,12.99],[-123.78,13.33],[-119.92,14.8],[-117.22,16.04],[-115.1,17.51],[-113.75,20.34],[-112.59,23.73],[-111.12,25.27],[-108.8,25.09],[-106.41,23.05],[-105.06,21.02],[-103.78,17.85],[-102.36,16.49],[-98.69,14.3],[-96.76,13.94],[-93.75,14.0],[-89.03,13.21],[-86.33,12.49]],
    [[-128.73,10.77],[-126.1,10.95],[-121.27,11.63],[-116.25,13.44],[-113.75,14.8],[-110.66,18.98],[-110.08,21.24],[-108.73,22.9],[-106.41,20.45],[-105.06,16.27],[-103.78,13.78],[-101,11.97],[-98.69,11.13],[-96.37,10.99],[-93.75,11.11],[-91.35,11.47],[-89.03,11.52],[-86.33,11.06]],
    [[-128.73,7.96],[-126.1,7.85],[-121.27,7.67],[-118.76,7.6],[-116.25,7.74],[-113.75,7.78],[-111.24,7.56],[-108.73,6.76],[-106.22,6.31],[-103.78,5.45],[-101,5.45],[-98.69,5.86],[-97.34,6.31],[-93.75,6.65],[-91.35,7.1],[-89.03,7.78],[-86.33,8.8]]
];
const cLabels = [["1022", -95.68, 31.99, "k"], ["1018", -96.18, 23.73, "k"], ["1014", -96.87, 15.48, "k"]];
// change in precipitation, 2.5 degree cells, first row is 35-32.5N, first column 130-127.5W
const cAnomaly = [
    [0,0,0,0,0,0,-.4,-.4,0,0,0,0,0,0,0,0,0,.4],
    [0,0,0,0,-.4,-.4,-.75,-.75,-.4,0,0,0,0,0,0,0,0,0],
    [0,0,0,-.4,-.75,-.75,-.75,-.75,-.75,-.4,0,0,0,0,0,0,0,0],
    [0,0,-.4,-.75,-.75,-1.25,-1.25,-1.25,-1.25,-.75,-.4,0,0,0,0,0,0,0],
    [0,0,-.4,-.75,-.75,-1.25,-1.25,-1.75,-1.75,-1.25,-.75,-.4,-.4,-.4,-.4,0,0,0],
    [0,0,-.4,-.75,-.75,-1.25,-1.25,-1.75,-1.75,-1.75,-1.25,-.75,-.4,-.4,-.4,-.4,0,0],
    [0,0,-.4,-.4,-.75,-1.25,-1.25,-1.75,-1.75,-1.75,-1.25,-.75,-.75,-.4,-.4,-.4,-.4,0],
    [0,0,0,-.4,-.75,-.75,-1.25,-1.25,-1.75,-1.25,-1.25,-.75,-.75,-.4,-.4,-.4,-.4,0],
    [0,0,0,-.4,-.75,-.75,-1.25,-1.25,-1.25,-1.25,-.75,-.75,-.75,-.4,-.4,-.4,0,0],
    [0,0,0,0,-.4,-.75,-.75,-.75,-.75,-.75,-.75,-.75,-.4,-.4,-.4,0,0,0],
    [0,0,0,0,0,-.4,-.4,-.4,-.4,-.4,-.4,-.4,-.4,-.4,0,0,0,0],
    [0,0,0,0,0,0,0,0,0,0,0,0,0,0,0,0,0,0]
];

// ---- panel d ----
const dLons = [-128.75,-126.25,-123.75,-121.25,-118.75,-116.25,-113.75,-111.25,-108.75,-106.25,-103.75,-101.25,-98.75,-96.25,-93.75,-88.75,-86.25];
const dLats = [
    [28.03,29.39,31.88,34.82,34.86,34.82,34.59,33.8,32.1,30.63,29.05,27.58,27.51,28.48,29.05,29.34,29.39],
    [25.72,26.72,28.71,32.33,33.8,33.8,33.8,33.05,31.31,29.84,28.03,25.88,25.5,26.72,27.42,27.53,27.44],
    [23.78,24.64,26.22,29.84,32.06,32.67,32.78,32.06,30.41,28.94,27.35,24.3,23.51,24.86,25.7,25.68,25.5],
    [22.19,22.83,23.78,26.9,30.07,31.43,31.81,31.15,29.62,27.81,26.11,22.6,20.95,22.6,23.73,23.6,23.48],
    [20.57,21.24,21.81,24.64,28.03,29.84,30.57,30.48,28.94,26.9,24.64,21.02,19.14,19.66,21.31,21.63,21.52],
    [19.09,19.77,20.0,22.38,25.32,27.81,29.16,29.21,27.47,25.77,23.28,19.66,18.08,17.9,18.64,19.41,19.39],
    [17.58,17.9,18.53,20.34,22.71,25.32,27.35,27.76,26.56,24.41,21.7,18.42,17.17,16.76,16.99,16.88,16.88],
    [16.04,16.27,16.83,18.19,20.11,22.26,24.19,26.11,25.32,22.38,19.43,17.17,16.49,15.75,15.54,15.25,14.98],
    [14.46,14.68,15.14,15.81,16.72,18.3,20.57,22.71,23.78,21.24,17.17,15.81,14.68,14.39,14.46,13.89,13.44],
    [12.6,12.76,13.1,13.55,14.23,15.02,16.27,18.08,19.16,17.4,14.34,13.33,12.65,12.49,12.71,12.53,12.08],
    [10.23,10.27,10.5,10.68,11.06,11.52,11.63,11.63,10.95,10.16,9.59,9.25,9.21,9.3,9.59,10.61,10.38]
];
const dExtraPressure = [
    [[-128.75,32],[-126.25,33.73],[-126.2,35]],
    [[-111.25,35],[-108.95,33.46],[-106.27,31.88],[-103.8,30.57],[-101.33,29.57],[-98.75,29.84],[-96.2,30.57],[-93.92,30.86],[-88.78,31.2],[-86.31,32.04]],
    [[-109.5,35],[-106.27,33.35],[-103.8,32.78],[-101.33,33.12],[-100.38,33.69],[-100.27,35]],
    [[-88.02,5],[-87.26,6.31],[-86.31,6.76]]
];
const dLabels = [["1022", -95.82, 28.6, "k"], ["1018", -96.08, 19.77, "k"], ["1014", -96.2, 14.41, "k"]];
const dAnomaly = [
    [0,0,0,0,0,0,0,0,0,0,.4,.4,.4,.4,.4,.4,.4,.4],
    [0,0,0,0,0,0,0,0,0,0,0,0,0,0,0,.4,.4,.4],
    [0,0,0,0,-.4,-.4,-.4,-.4,-.4,0,0,0,0,0,0,0,0,0],
    [0,0,0,-.4,-.4,-.75,-.75,-.75,-.75,-.4,0,0,0,0,0,0,0,0],
    [0,0,-.4,-.4,-.75,-.75,-.75,-.75,-.75,-.75,-.4,0,0,0,0,0,0,0],
    [0,0,-.4,-.4,-.75,-.75,-.75,-1.25,-1.25,-.75,-.4,-.4,0,0,0,0,0,0],
    [0,0,-.4,-.4,-.75,-.75,-.75,-1.25,-1.25,-.75,-.75,0,0,0,0,0,0,0],
    [0,0,0,-.4,-.75,-.75,-.75,-1.25,-1.25,-.75,-.75,-.4,0,0,0,0,0,0],
    [0,0,0,-.4,-.4,-.75,-.75,-.75,-.75,-.75,-.75,-.4,0,0,0,0,0,0],
    [0,0,0,0,-.4,-.4,-.4,-.75,-.75,-.4,-.4,-.4,0,0,0,0,0,0],
    [0,0,0,0,0,0,0,0,0,0,0,0,0,0,0,0,0,0],
    [0,0,0,0,0,0,0,0,0,0,0,0,0,0,0,0,0,0]
];
const dPressure = dLats.map(function(row){ return d3.zip(dLons, row); }).concat(dExtraPressure);

// coast for the two lower maps
const lowCoast = [
    [[-120.58,34.59],[-118.38,33.8],[-117.41,33.46],[-116.25,31.43],[-115.75,29.62],[-114.13,28.48],[-113.94,28.03],[-114.9,27.74],[-114.32,27.24],[-112.59,26.79],[-113.67,26.22],[-112.28,24.86],[-110.66,23.51],[-109.96,22.83],[-109.42,23.39],[-110.27,24.3],[-110.85,24.98],[-111.62,26.45],[-112.59,28.26],[-113.75,29.16],[-114.71,30.07],[-114.9,31.76]],
    [[-114.9,31.76],[-113.75,31.31],[-112.97,31.31],[-112.59,29.16],[-110.66,27.92],[-110.27,27.35],[-109.31,25.77],[-108.34,25.43],[-106.99,23.73],[-105.25,21.24],[-105.64,20.34],[-103.71,18.53],[-102.55,17.62],[-100.23,16.83],[-97.92,16.04],[-95.21,16.15],[-93.67,15.7],[-92.12,14.34],[-89.81,13.33],[-87.68,13.33],[-87.49,12.65],[-85.95,11.06],[-85.75,10.05],[-85.17,9.71]],
    [[-85.17,29.73],[-86.33,30.41],[-88.26,30.41],[-89.23,30.57],[-90.39,30.07],[-89.42,29.95],[-89.42,29.39],[-90.97,29.16],[-92.12,29.84],[-94.83,29.84],[-95.02,29.39],[-97.14,27.92],[-97.53,27.13],[-97.14,25.54],[-97.92,23.28],[-97.53,21.7],[-96.76,20.34],[-95.6,18.76],[-94.44,18.19],[-91.74,18.64],[-91.16,19.21],[-90.19,21.13],[-88.65,21.58],[-86.91,21.47],[-86.91,21.02],[-88.07,18.76],[-88.46,16.04],[-88.26,15.59],[-85.95,15.93],[-85.17,15.93]]
];

// ---- drawing ----
const svg = d3.select("#fig");
const labelColor = {k: "#111111", r: "#a01818", b: "#1c1c9c"};
const barScale = d3.scaleThreshold()
    .domain(barLevels.slice().reverse())
    .range(barColors.slice().reverse());

// green dotted line down the page edge
svg.append("line")
    .attr("x1", 50).attr("x2", 50).attr("y1", 0).attr("y2", 2104)
    .attr("stroke", "#45b98a").attr("stroke-width", 2).attr("stroke-dasharray", "2 2");

function coordLabel(parent, value, suffix, x, y, anchor) {
    const t = parent.append("text")
        .attr("x", x).attr("y", y)
        .attr("text-anchor", anchor)
        .attr("font-size", 42)
        .attr("fill", "#111");
    t.append("tspan").text(Math.abs(value));
    t.append("tspan").attr("font-size", 58).attr("dy", 3).text("\u00b0");
    t.append("tspan").attr("dy", -3).text(suffix);
}

function makePanel(p) {
    const x = d3.scaleLinear().domain(p.lonDomain).range([p.left, p.right]);
    const y = d3.scaleLinear().domain(p.latDomain).range([p.bottom, p.top]);
    const g = svg.append("g");
    const clipId = "clip" + p.letter;
    svg.append("clipPath").attr("id", clipId).append("rect")
        .attr("x", p.left).attr("y", p.top)
        .attr("width", p.right - p.left).attr("height", p.bottom - p.top);
    const map = g.append("g").attr("clip-path", `url(#${clipId})`);
    const line = d3.line().x(function(d){ return x(d[0]); }).y(function(d){ return y(d[1]); });

    // shaded cells
    if (p.anomaly) {
        p.anomaly.forEach(function(row, r) {
            row.forEach(function(v, c) {
                if (v === 0) return;
                const lon0 = p.lonDomain[0] + c * 2.5;
                const lat0 = p.latDomain[1] - r * 2.5;
                map.append("rect")
                    .attr("x", x(lon0)).attr("y", y(lat0))
                    .attr("width", x(lon0 + 2.5) - x(lon0) + 0.5)
                    .attr("height", y(lat0 - 2.5) - y(lat0) + 0.5)
                    .attr("fill", barScale(v));
            });
        });
    }

    function addLines(data, color, width, dash) {
        map.append("g").selectAll("path").data(data).enter().append("path")
            .attr("d", line)
            .attr("fill", "none")
            .attr("stroke", color)
            .attr("stroke-width", width)
            .attr("stroke-linejoin", "round")
            .attr("stroke-dasharray", dash || null);
    }
    addLines(p.coast, "#808080", 2.2);
    addLines(p.pressure, "#000", 2.8);
    if (p.red) addLines(p.red, "#ff0000", 4, "14 8");
    if (p.blue) addLines(p.blue, "#0000ff", 4, "14 8");

    // contour labels
    g.append("g").selectAll("text").data(p.labels).enter().append("text")
        .attr("x", function(d){ return x(d[1]); })
        .attr("y", function(d){ return y(d[2]) + p.labelSize * 0.36; })
        .attr("text-anchor", "middle")
        .attr("font-size", p.labelSize)
        .attr("fill", function(d){ return labelColor[d[3]]; })
        .text(function(d){ return d[0]; });

    // the square study box
    g.append("rect")
        .attr("x", x(p.box[0])).attr("y", y(p.box[3]))
        .attr("width", x(p.box[1]) - x(p.box[0]))
        .attr("height", y(p.box[2]) - y(p.box[3]))
        .attr("fill", "none").attr("stroke", "#000").attr("stroke-width", 6);

    // frame and ticks
    const tickLen = 12;
    const axes = g.append("g");
    function addAxis(axis, tx, ty) {
        const a = axes.append("g").attr("transform", `translate(${tx},${ty})`)
            .call(axis.tickSize(tickLen).tickSizeOuter(0).tickFormat(""));
        a.select(".domain").remove();
        a.selectAll("line").attr("stroke", "#000").attr("stroke-width", 3);
    }
    addAxis(d3.axisTop(x).tickValues(p.lonTicks), 0, p.top);
    addAxis(d3.axisBottom(x).tickValues(p.lonTicks), 0, p.bottom);
    addAxis(d3.axisLeft(y).tickValues(p.latTicks), p.left, 0);
    addAxis(d3.axisRight(y).tickValues(p.latTicks), p.right, 0);
    axes.append("rect")
        .attr("x", p.left).attr("y", p.top)
        .attr("width", p.right - p.left).attr("height", p.bottom - p.top)
        .attr("fill", "none").attr("stroke", "#000").attr("stroke-width", 3);
    if (p.overrun) {
        [p.top, p.bottom].forEach(function(yy) {
            axes.append("line").attr("x1", p.right).attr("x2", p.right + p.overrun)
                .attr("y1", yy).attr("y2", yy)
                .attr("stroke", "#000").attr("stroke-width", 3);
        });
    }

    p.latTicks.forEach(function(v) {
        coordLabel(g, v, "N", p.left - 26, y(v) + 18, "end");
    });
    p.lonTicks.forEach(function(v) {
        coordLabel(g, v, "W", x(v), p.lonLabelY, "middle");
    });

    g.append("text")
        .attr("x", p.titleX[0]).attr("y", p.titleY)
        .attr("textLength", p.titleX[1] - p.titleX[0])
        .attr("lengthAdjust", "spacingAndGlyphs")
        .attr("font-size", 56).attr("font-weight", "bold").attr("fill", "#000")
        .text(p.title);
    g.append("text")
        .attr("x", p.letterX).attr("y", p.letterY)
        .attr("font-size", 96).attr("font-weight", "bold").attr("fill", "#000")
        .text(p.letter);
}

function makeBar(left, right) {
    const g = svg.append("g");
    const yBar = d3.scalePoint().domain(barLevels).range([1281, 2028]);
    const mid = (left + right) / 2;
    const stepY = yBar.step();
    // pointed ends
    g.append("path")
        .attr("d", d3.line()([[left, yBar(2)], [mid, 1197], [right, yBar(2)]]))
        .attr("fill", barColors[0]);
    g.append("path")
        .attr("d", d3.line()([[left, yBar(-2)], [mid, 2112], [right, yBar(-2)]]))
        .attr("fill", barColors[barColors.length - 1]);
    barLevels.slice(0, -1).forEach(function(v, i) {
        g.append("rect")
            .attr("x", left).attr("y", yBar(v))
            .attr("width", right - left).attr("height", stepY)
            .attr("fill", barColors[i + 1]);
    });
    barLevels.forEach(function(v) {
        g.append("line")
            .attr("x1", left).attr("x2", right)
            .attr("y1", yBar(v)).attr("y2", yBar(v))
            .attr("stroke", "#333").attr("stroke-width", 1.5);
        g.append("text")
            .attr("x", right + 7).attr("y", yBar(v) + 14)
            .attr("font-size", 43).attr("fill", "#111")
            .text(String(v).replace("-", "\u2212"));
    });
}

makePanel({
    letter: "a", letterX: 99, letterY: 99,
    title: topTitle[0], titleX: [274, 1356], titleY: 134,
    left: 256.4, right: 1370.8, top: 160, bottom: 1056, overrun: 12,
    lonDomain: [-110, -45], latDomain: [20, 60],
    lonTicks: topLonTicks, latTicks: topLatTicks, lonLabelY: 1119,
    coast: topCoast, pressure: aPressure, red: aRedDash, blue: aBlueDash,
    labels: aLabels, labelSize: 33, box: [-75, -72.5, 40, 42.5]
});
makePanel({
    letter: "b", letterX: 1602, letterY: 99,
    title: topTitle[1], titleX: [1815, 2823], titleY: 134,
    left: 1759.2, right: 2873.5, top: 160, bottom: 1056, overrun: 12,
    lonDomain: [-110, -45], latDomain: [20, 60],
    lonTicks: topLonTicks, latTicks: topLatTicks, lonLabelY: 1119,
    coast: topCoast, pressure: bPressure, red: bRedDash, blue: bBlueDash,
    labels: bLabels, labelSize: 33, box: [-75, -72.5, 40, 42.5]
});
makePanel({
    letter: "c", letterX: 100, letterY: 1189,
    title: topTitle[0], titleX: [229, 1311], titleY: 1218,
    left: 189, right: 1346, top: 1243.7, bottom: 2065.5,
    lonDomain: [-130, -85], latDomain: [5, 35],
    lonTicks: lowLonTicks, latTicks: lowLatTicks, lonLabelY: 2126,
    coast: lowCoast, pressure: cPressure, anomaly: cAnomaly,
    labels: cLabels, labelSize: 36, box: [-105, -102.5, 17.5, 20]
});
makePanel({
    letter: "d", letterX: 1602, letterY: 1189,
    title: topTitle[1], titleX: [1769, 2777], titleY: 1218,
    left: 1691.7, right: 2850, top: 1243.7, bottom: 2065.5,
    lonDomain: [-130, -85], latDomain: [5, 35],
    lonTicks: lowLonTicks, latTicks: lowLatTicks, lonLabelY: 2126,
    coast: lowCoast, pressure: dPressure, anomaly: dAnomaly,
    labels: dLabels, labelSize: 36, box: [-105, -102.5, 17.5, 20]
});
makeBar(1385, 1423);
makeBar(2887, 2926);
</script>
</body>
</html>
